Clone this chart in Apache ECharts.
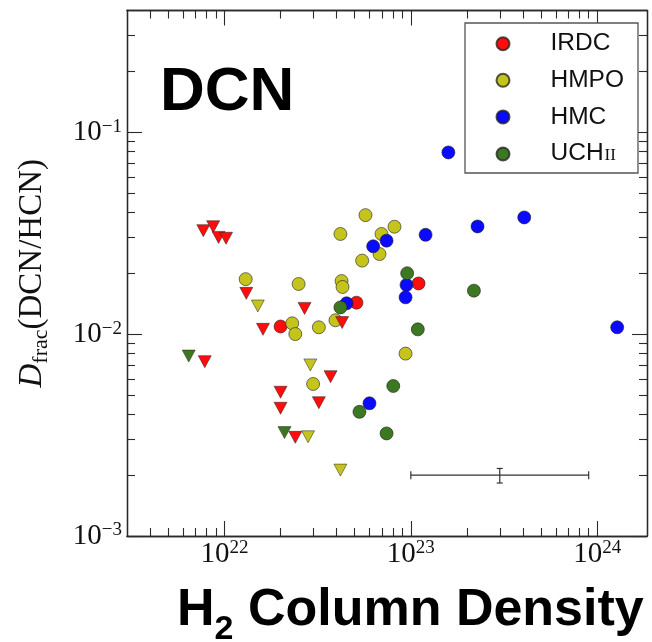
<!DOCTYPE html>
<html>
<head>
<meta charset="utf-8">
<script src="https://cdn.jsdelivr.net/npm/echarts@6.0.0/dist/echarts.min.js"></script>
<style>
html,body{margin:0;padding:0;background:#fff;}
#chart{width:652px;height:642px;}
</style>
</head>
<body>
<div id="chart"></div>
<script>
// ---------------- data: [H2 column density (cm^-2), Dfrac(DCN/HCN)] ----------------
const irdcDetected = [[2.0e22,0.0109],[5.11e22,0.0143],[1.10e23,0.0178]];
const irdcUpperLimits = [[7.7e21,0.0325],[8.7e21,0.034],[9.3e21,0.0301],[1.02e22,0.0298],
  [1.31e22,0.0159],[2.69e22,0.0134],[1.61e22,0.01055],[4.28e22,0.0114],[7.84e21,0.0073],
  [3.71e22,0.00615],[2.0e22,0.00515],[3.21e22,0.00457],[2.0e22,0.00429],[2.4e22,0.00308]];
const hmpoDetected = [[1.30e22,0.0187],[2.50e22,0.0177],[2.31e22,0.0113],[2.40e22,0.0100],
  [3.21e22,0.0108],[5.71e22,0.0388],[4.19e22,0.0313],[6.96e22,0.0313],[8.17e22,0.034],
  [6.79e22,0.0249],[5.48e22,0.0231],[4.25e22,0.0183],[4.30e22,0.0171],[3.94e22,0.0117],
  [9.37e22,0.0080],[2.99e22,0.00566]];
const hmpoUpperLimits = [[1.51e22,0.01377],[2.89e22,0.00703],[2.81e22,0.0031],[4.19e22,0.00212]];
const hmcDetected = [[1.59e23,0.0793],[6.28e22,0.0272],[7.41e22,0.029],[1.2e23,0.031],
  [2.28e23,0.0341],[4.06e23,0.0378],[1.28e24,0.0108],[9.48e22,0.0175],[9.37e22,0.0152],
  [4.52e22,0.0142],[6.0e22,0.00454]];
const uchiiDetected = [[9.56e22,0.0200],[2.18e23,0.0164],[4.19e22,0.01355],[1.09e23,0.01055],
  [8.05e22,0.00553],[5.30e22,0.00412],[7.41e22,0.00322]];
const uchiiUpperLimits = [[6.43e21,0.00778],[2.10e22,0.00325]];

// representative error bar
const errorBarCenter = [[3.0e23, 2.0e-3]];
const errorBarXRange = [1.0e23, 9.0e23];
const errorBarYRange = [1.83e-3, 2.16e-3];

const classNames = ['IRDC','HMPO','HMC','UCHII'];
const classColors = ['#ff0d0d','#c4c41c','#0a0aff','#3c7820'];

// axes
const xMin = 3e21, xMax = 1.85e24;
const yMin = 1e-3, yMax = 0.4;
const xMajorTicks = [1e22, 1e23, 1e24];
const xTickExponents = ['22','23','24'];
const yMajorTicks = [1e-3, 1e-2, 1e-1];
const yTickExponents = ['\u22123','\u22122','\u22121'];
const xMinorTicks = [4e21,5e21,6e21,7e21,8e21,9e21,
  2e22,3e22,4e22,5e22,6e22,7e22,8e22,9e22,
  2e23,3e23,4e23,5e23,6e23,7e23,8e23,9e23];
const yMinorTicks = [2e-3,3e-3,4e-3,5e-3,6e-3,7e-3,8e-3,9e-3,
  2e-2,3e-2,4e-2,5e-2,6e-2,7e-2,8e-2,9e-2,
  2e-1,3e-1];

// ---------------- chart ----------------
const AX = '#2a2a2a';
function findIdx(arr, v){
  return arr.findIndex(t => Math.abs(Math.log10(t) - Math.log10(v)) < 1e-6);
}
const tickRich = {
  b:{fontFamily:'Liberation Serif', fontSize:29, color:'#111', verticalAlign:'bottom'},
  s:{fontFamily:'Liberation Serif', fontSize:19, color:'#111', verticalAlign:'top'}
};
function makeAxis(dim, pos, ticks, len, labels){
  const isX = dim === 'x';
  const a = {
    type:'log', logBase:10, gridIndex:0, position:pos,
    min: isX ? xMin : yMin, max: isX ? xMax : yMax,
    axisLine:{show:true, onZero:false, lineStyle:{color:AX, width:1.3}},
    axisTick:{show:true, inside:true, length:len, customValues:ticks, lineStyle:{color:AX, width:1.1}},
    splitLine:{show:false}, minorTick:{show:false}, minorSplitLine:{show:false},
    axisLabel:{show:false}
  };
  if (labels) {
    const major = isX ? xMajorTicks : yMajorTicks;
    const exps = isX ? xTickExponents : yTickExponents;
    a.axisLabel = {
      show:true, customValues: major, margin: isX ? 3 : 5,
      showMinLabel:true, showMaxLabel:true,
      formatter: v => { const i = findIdx(major, v); return i < 0 ? '' : '{b|10}{s|' + exps[i] + '}'; },
      rich: tickRich, lineHeight:30
    };
  }
  return a;
}

const series = [];
const detected = [irdcDetected, hmpoDetected, hmcDetected, uchiiDetected];
const limits = [irdcUpperLimits, hmpoUpperLimits, null, uchiiUpperLimits];
classNames.forEach((n, i) => {
  series.push({
    type:'scatter', name:n, data:detected[i], symbol:'circle', symbolSize:13,
    itemStyle:{color:classColors[i], borderColor:'rgba(30,30,30,0.75)', borderWidth:0.8, opacity:1},
    emphasis:{disabled:true}, z:3+i
  });
});
classNames.forEach((n, i) => {
  if (!limits[i]) return;
  series.push({
    type:'scatter', name:n + ' limit', data:limits[i], symbol:'triangle', symbolRotate:180,
    symbolSize:[13,12],
    itemStyle:{color:classColors[i], borderColor:'rgba(30,30,30,0.7)', borderWidth:0.7, opacity:1},
    emphasis:{disabled:true}, z:8
  });
});
series.push({
  type:'custom', name:'error', data:errorBarCenter, z:9,
  renderItem:(params, api) => {
    const xc = api.value(0), yc = api.value(1);
    const L = api.coord([errorBarXRange[0], yc]);
    const R = api.coord([errorBarXRange[1], yc]);
    const T = api.coord([xc, errorBarYRange[1]]);
    const B = api.coord([xc, errorBarYRange[0]]);
    const st = {stroke:'#333', lineWidth:1.2};
    const ln = (x1,y1,x2,y2) => ({type:'line', shape:{x1,y1,x2,y2}, style:st});
    return {type:'group', children:[
      ln(L[0],L[1],R[0],R[1]),
      ln(L[0],L[1]-4,L[0],L[1]+4),
      ln(R[0],R[1]-4,R[0],R[1]+4),
      ln(T[0],T[1],B[0],B[1]),
      ln(T[0]-3,T[1],T[0]+3,T[1]),
      ln(B[0]-3,B[1],B[0]+3,B[1])
    ]};
  }
});

const yAxes = [makeAxis('y','left',yMajorTicks,15,true), makeAxis('y','left',yMinorTicks,8,false),
               makeAxis('y','right',yMajorTicks,15,false), makeAxis('y','right',yMinorTicks,8,false)];
yAxes[0].name = '{d|D}{f|frac}{n|(DCN/HCN)}';
yAxes[0].nameLocation = 'middle';
yAxes[0].nameRotate = 90;
yAxes[0].nameGap = 75;
yAxes[0].nameTextStyle = {
  rich:{
    d:{fontFamily:'Liberation Serif', fontStyle:'italic', fontSize:33, color:'#111', verticalAlign:'middle', lineHeight:40},
    f:{fontFamily:'Liberation Serif', fontSize:22, color:'#111', verticalAlign:'bottom'},
    n:{fontFamily:'Liberation Serif', fontSize:33, color:'#111', verticalAlign:'middle', lineHeight:40}
  }
};

const option = {
  animation:false,
  backgroundColor:'#ffffff',
  grid:{left:127, right:5, top:10.5, bottom:106, containLabel:false, outerBoundsMode:'none'},
  xAxis:[makeAxis('x','bottom',xMajorTicks,15,true), makeAxis('x','bottom',xMinorTicks,8,false),
         makeAxis('x','top',xMajorTicks,15,false), makeAxis('x','top',xMinorTicks,8,false)],
  yAxis:yAxes,
  legend:{
    data:classNames, orient:'vertical', left:495.5, top:31.2,
    itemWidth:13, itemHeight:13, itemGap:11.6, icon:'circle', padding:0,
    selectedMode:false,
    formatter: n => n === 'UCHII' ? '{u|UCH}{r|II}' : n,
    textStyle:{
      fontFamily:'Liberation Sans', fontSize:24.5, color:'#111', lineHeight:24,
      padding:[0,0,0,36],
      rich:{
        u:{fontFamily:'Liberation Sans', fontSize:24.5, color:'#111', verticalAlign:'bottom', lineHeight:24},
        r:{fontFamily:'Liberation Serif', fontSize:17, color:'#111', verticalAlign:'bottom', padding:[0,0,2,1]}
      }
    },
    z:10
  },
  graphic:[
    {type:'rect', z:1, shape:{x:465, y:23, width:173, height:150},
     style:{fill:'#ffffff', stroke:'#555', lineWidth:1.3}},
    {type:'text', z:20, x:160, y:92.5,
     style:{text:'DCN', font:'bold 62px "Liberation Sans"', fill:'#000', align:'left', verticalAlign:'middle'}},
    {type:'text', z:20, x:177, y:611,
     style:{text:'{b|H}{s|2}{b| Column Density}', align:'left', verticalAlign:'middle',
       rich:{
         b:{font:'bold 52px "Liberation Sans"', fill:'#000', verticalAlign:'middle', lineHeight:72},
         s:{font:'bold 34px "Liberation Sans"', fill:'#000', verticalAlign:'bottom'}
       }}}
  ],
  series:series
};
const chart = echarts.init(document.getElementById('chart'), null, {renderer:'canvas'});
chart.setOption(option);
</script>
</body>
</html>
